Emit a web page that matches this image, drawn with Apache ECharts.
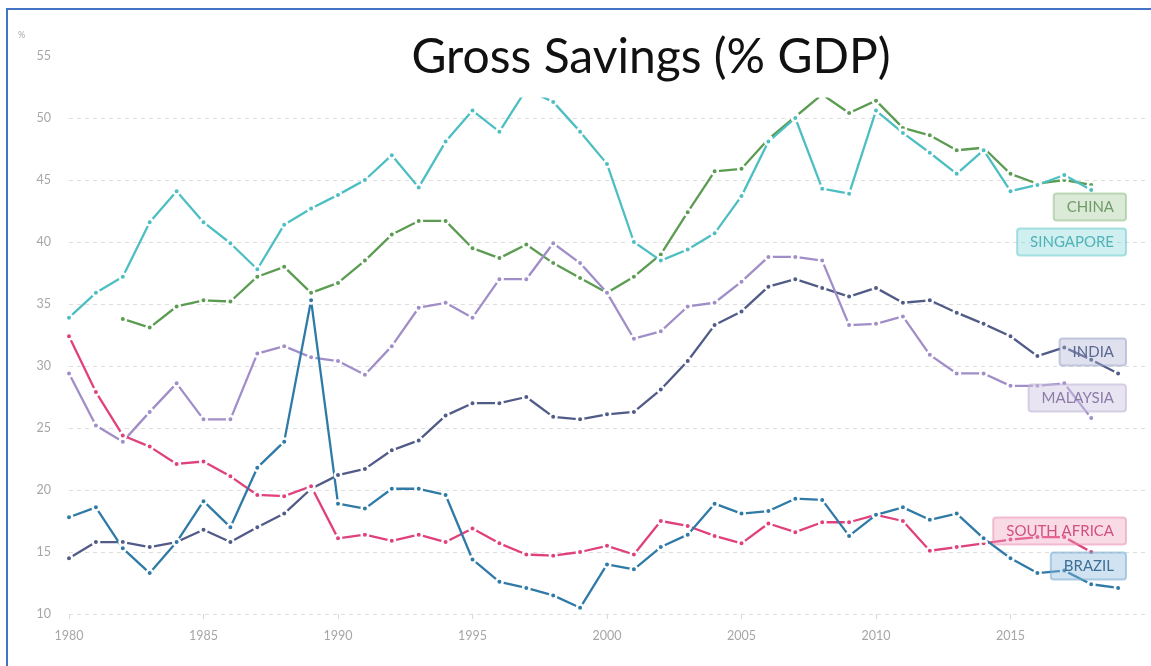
<!DOCTYPE html>
<html>
<head>
<meta charset="utf-8">
<title>Gross Savings (% GDP)</title>
<script src="https://cdn.jsdelivr.net/npm/echarts@6/dist/echarts.min.js"></script>
<style>
  html, body { margin: 0; padding: 0; background: #fff; }
  #chart { width: 1151px; height: 666px; }
</style>
</head>
<body>
<div id="chart"></div>
<script>
// Gross savings as a share of GDP, 1980-2019
const years = [];
for (let y = 1980; y <= 2019; y++) years.push(y);

const china = [null, null, 33.8, 33.1, 34.8, 35.3, 35.2, 37.2, 38.0, 35.9,
  36.7, 38.5, 40.6, 41.7, 41.7, 39.5, 38.7, 39.8, 38.3, 37.1,
  35.9, 37.2, 39.0, 42.4, 45.7, 45.9, 48.3, 50.1, 51.9, 50.4,
  51.4, 49.2, 48.6, 47.4, 47.6, 45.5, 44.7, 45.0, 44.6, null];

const singapore = [33.9, 35.9, 37.2, 41.6, 44.1, 41.6, 39.9, 37.8, 41.4, 42.7,
  43.8, 45.0, 47.0, 44.4, 48.1, 50.6, 48.9, 52.3, 51.3, 48.9,
  46.3, 40.0, 38.5, 39.4, 40.7, 43.7, 48.1, 50.0, 44.3, 43.9,
  50.6, 48.8, 47.2, 45.5, 47.4, 44.1, 44.6, 45.4, 44.2, null];

const india = [14.5, 15.8, 15.8, 15.4, 15.8, 16.8, 15.8, 17.0, 18.1, 20.1,
  21.2, 21.7, 23.2, 24.0, 26.0, 27.0, 27.0, 27.5, 25.9, 25.7,
  26.1, 26.3, 28.1, 30.4, 33.3, 34.4, 36.4, 37.0, 36.3, 35.6,
  36.3, 35.1, 35.3, 34.3, 33.4, 32.4, 30.8, 31.5, 30.5, 29.4];

const malaysia = [29.4, 25.2, 23.9, 26.3, 28.6, 25.7, 25.7, 31.0, 31.6, 30.7,
  30.4, 29.3, 31.6, 34.7, 35.1, 33.9, 37.0, 37.0, 39.9, 38.3,
  35.9, 32.2, 32.8, 34.8, 35.1, 36.8, 38.8, 38.8, 38.5, 33.3,
  33.4, 34.0, 30.9, 29.4, 29.4, 28.4, 28.4, 28.6, 25.8, null];

const southAfrica = [32.4, 27.9, 24.4, 23.5, 22.1, 22.3, 21.1, 19.6, 19.5, 20.3,
  16.1, 16.4, 15.9, 16.4, 15.8, 16.9, 15.7, 14.8, 14.7, 15.0,
  15.5, 14.8, 17.5, 17.1, 16.3, 15.7, 17.3, 16.6, 17.4, 17.4,
  18.0, 17.5, 15.1, 15.4, 15.7, 16.0, 16.2, 16.2, 15.0, null];

const brazil = [17.8, 18.6, 15.3, 13.3, 15.8, 19.1, 17.0, 21.8, 23.9, 35.3,
  18.9, 18.5, 20.1, 20.1, 19.6, 14.4, 12.6, 12.1, 11.5, 10.5,
  14.0, 13.6, 15.4, 16.4, 18.9, 18.1, 18.3, 19.3, 19.2, 16.3,
  18.0, 18.6, 17.6, 18.1, 16.1, 14.5, 13.3, 13.5, 12.4, 12.1];

const yTicks = [10, 15, 20, 25, 30, 35, 40, 45, 50, 55];
const xTicks = [1980, 1985, 1990, 1995, 2000, 2005, 2010, 2015];

const countries = [
  { name: 'CHINA',        values: china,       color: '#5c9c52', text: '#6f9c68', bg: 'rgba(150,195,140,0.35)', border: 'rgba(120,175,110,0.45)', cy: 207 },
  { name: 'SINGAPORE',    values: singapore,   color: '#4dbfc3', text: '#4fb3b8', bg: 'rgba(120,210,215,0.35)', border: 'rgba(90,195,200,0.5)',  cy: 242 },
  { name: 'INDIA',        values: india,       color: '#515b87', text: '#5c6791', bg: 'rgba(170,178,210,0.38)', border: 'rgba(140,150,190,0.5)', cy: 352 },
  { name: 'MALAYSIA',     values: malaysia,    color: '#a18ec9', text: '#8b7ca8', bg: 'rgba(205,195,225,0.45)', border: 'rgba(185,172,210,0.55)', cy: 398 },
  { name: 'SOUTH AFRICA', values: southAfrica, color: '#e0417c', text: '#d0507f', bg: 'rgba(240,160,190,0.38)', border: 'rgba(230,130,170,0.5)', cy: 531 },
  { name: 'BRAZIL',       values: brazil,      color: '#2f7aa6', text: '#3b6f98', bg: 'rgba(140,185,220,0.4)',  border: 'rgba(110,165,210,0.55)', cy: 566 }
];

const chart = echarts.init(document.getElementById('chart'), null, { renderer: 'canvas' });

const series = countries.map(c => ({
  name: c.name,
  type: 'line',
  data: years.map((y, i) => [y, c.values[i]]),
  connectNulls: false,
  symbol: 'circle',
  symbolSize: 6.5,
  showSymbol: true,
  lineStyle: { color: c.color, width: 2.3 },
  itemStyle: { color: c.color, borderColor: '#fff', borderWidth: 2.5 },
  emphasis: { disabled: true },
  z: 2
}));

// gridline colours: the top (55) line is left out
const splitColors = yTicks.map(v => (v === 55 ? 'rgba(0,0,0,0)' : '#dedede'));

// country name tags, right-aligned beside the line ends
const tags = countries.map(c => ({
  type: 'text',
  z: 50,
  x: 1126,
  y: c.cy,
  style: {
    text: c.name,
    fill: c.text,
    font: '15px Lato, "Open Sans", sans-serif',
    align: 'right',
    verticalAlign: 'middle',
    backgroundColor: c.bg,
    borderColor: c.border,
    borderWidth: 1,
    borderRadius: 3,
    padding: [6, 12, 6, 13]
  }
}));

chart.setOption({
  animation: false,
  backgroundColor: '#fff',
  grid: { left: 69, right: 6, top: 56, bottom: 52, containLabel: false },
  xAxis: {
    type: 'value',
    min: 1980,
    max: 2020,
    interval: 5,
    axisLine: { show: false },
    axisTick: { show: true, length: 5, lineStyle: { color: '#d8d8d8' } },
    splitLine: { show: false },
    axisLabel: {
      showMaxLabel: false,
      color: '#a6a6a6',
      fontSize: 12.5,
      fontFamily: 'Lato, "Open Sans", sans-serif',
      margin: 15,
      formatter: v => (xTicks.indexOf(v) >= 0 ? String(v) : '')
    }
  },
  yAxis: {
    type: 'value',
    min: 10,
    max: 55,
    interval: 5,
    axisLine: { show: false },
    axisTick: { show: false },
    splitLine: { show: true, lineStyle: { color: splitColors, type: [4, 4], width: 1 } },
    axisLabel: {
      color: '#a6a6a6',
      fontSize: 12.5,
      fontFamily: 'Lato, "Open Sans", sans-serif',
      margin: 18,
      formatter: v => (yTicks.indexOf(v) >= 0 ? String(v) : '')
    }
  },
  series: series,
  graphic: [
    // frame
    {
      type: 'rect', z: 60, silent: true,
      shape: { x: 7, y: 9, width: 1300, height: 800 },
      style: { fill: 'none', stroke: '#4472c4', lineWidth: 2 }
    },
    // title box (opaque, sits over the plot)
    {
      type: 'rect', z: 40, silent: true,
      shape: { x: 400, y: 12, width: 505, height: 85.5 },
      style: { fill: '#fff' }
    },
    {
      type: 'text', z: 45, silent: true,
      x: 651, y: 34,
      style: {
        text: 'Gross Savings (% GDP)',
        fill: '#111',
        font: '48px Lato, "Open Sans", sans-serif',
        align: 'center',
        verticalAlign: 'top'
      }
    },
    // unit
    {
      type: 'text', z: 45, silent: true,
      x: 18, y: 35,
      style: { text: '%', fill: '#a6a6a6', font: '9px Lato, sans-serif', verticalAlign: 'middle' }
    }
  ].concat(tags)
});
</script>
</body>
</html>
